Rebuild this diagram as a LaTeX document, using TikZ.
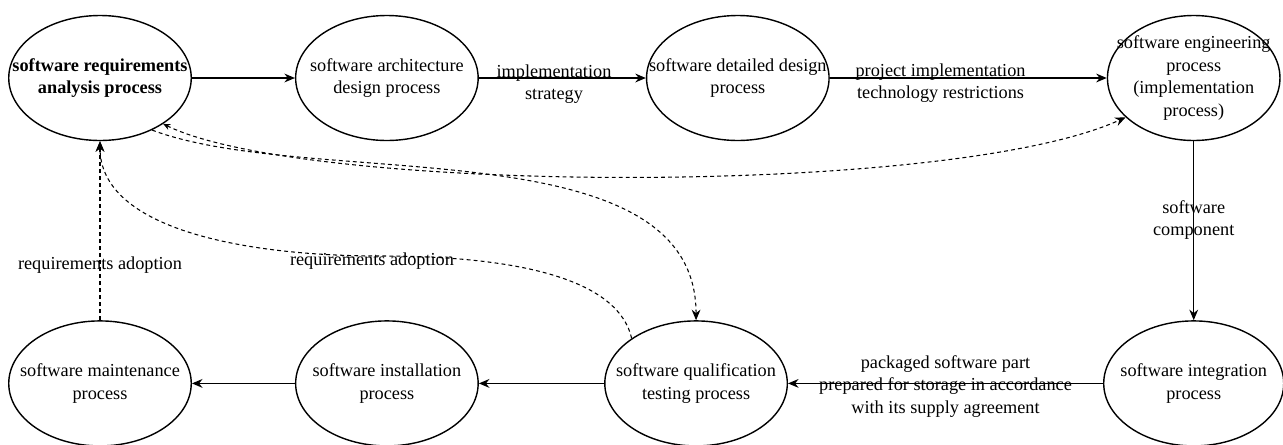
\documentclass[tikz,border=0pt]{standalone}
\usepackage{fontspec}
\setmainfont{Liberation Serif}
\usetikzlibrary{shapes.geometric, positioning, arrows.meta}
\tikzset{
  procell/.style={ellipse, minimum width=3.65cm, minimum height=2.5cm, inner xsep=-0.6cm, inner ysep=-0.15cm, align=center, draw=black, thick},
  arrow/.style={thick,-{Stealth[length=6pt,width=5pt]}},
  dasharrow/.style={semithick, dash pattern=on 2.2pt off 1.8pt, -{Stealth[length=6pt,width=5pt]}},
  twoway/.style={{Stealth[length=4pt,width=3.5pt]}-{Stealth[length=6pt,width=5pt]}}
}

\begin{document}
\begin{tikzpicture}[every node/.style={font=\fontsize{10.4}{12.8}\selectfont}]
  \useasboundingbox (-2.0,-7.32) rectangle (23.66,1.56);

  \node (req) [procell, font=\fontsize{10.4}{12.8}\selectfont\bfseries] {software requirements\\analysis process};
  \node (arch) [procell, right=2.06cm of req] {software architecture\\design process};
  \node (ddes) [procell, right=3.34cm of arch] {software detailed design\\process};
  \node (eng) [procell, minimum width=3.45cm, right=5.54cm of ddes] {software engineering\\process\\(implementation\\process)};
  \node (integ) [procell, minimum width=3.6cm, below=3.58cm of eng] {software integration\\process};
  \node (qual) [procell, left=6.3cm of integ] {software qualification\\testing process};
  \node (maint) [procell, below=3.58cm of req] {software maintenance\\process};
  \node (inst) [procell, right=2.06cm of maint] {software installation\\process};

  % main flow
  \draw [arrow] (req) -- (arch);
  \draw [arrow] (arch) -- node[pos=0.45, yshift=-0.12cm, align=center] {implementation\\strategy} (ddes);
  \draw [arrow] (ddes) -- node[pos=0.4, yshift=-0.1cm, align=center] {project implementation\\technology restrictions} (eng);
  \draw [arrow] (eng) -- node[pos=0.44, align=center] {software\\component} (integ);
  \draw [arrow] (integ) -- node[yshift=-0.06cm, align=center] {packaged software part\\prepared for storage in accordance\\with its supply agreement} (qual);
  \draw [arrow] (qual) -- (inst);
  \draw [arrow] (inst) -- (maint);

  % feedback to the requirements
  \draw [dasharrow] (maint) -- node[pos=0.31] {requirements adoption} (req);
  \coordinate (ra) at (5.6,-3.56);
  \draw [dasharrow] (qual.145) .. controls +(-0.26,1.14) and +(2.9,0) .. (ra)
        node[xshift=-0.16cm, yshift=-0.1cm] {requirements adoption}
        .. controls +(-2.6,0) and +(0,-1.79) .. (req.south);

  % requirements passed on
  \draw [dasharrow, twoway] (req.-36) .. controls +(2.86,-1.4) and +(-3.5,-1.6) .. (eng.210);
  \draw [dasharrow] (req.-45) .. controls +(3.2,-1.2) and +(0,3.9) .. (qual.north);
\end{tikzpicture}
\end{document}
